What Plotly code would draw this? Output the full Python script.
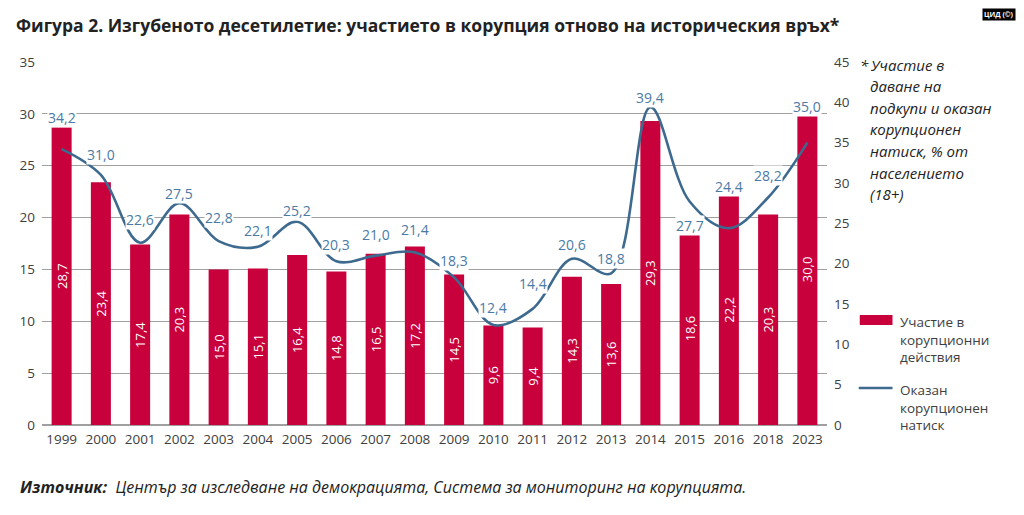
import plotly.graph_objects as go

years = ["1999", "2000", "2001", "2002", "2003", "2004", "2005", "2006", "2007", "2008",
         "2009", "2010", "2011", "2012", "2013", "2014", "2015", "2016", "2018", "2023"]
participation = [28.7, 23.4, 17.4, 20.3, 15.0, 15.1, 16.4, 14.8, 16.5, 17.2,
                 14.5, 9.6, 9.4, 14.3, 13.6, 29.3, 18.6, 22.2, 20.3, 30.0]
pressure = [34.2, 31.0, 22.6, 27.5, 22.8, 22.1, 25.2, 20.3, 21.0, 21.4,
            18.3, 12.4, 14.4, 20.6, 18.8, 39.4, 27.7, 24.4, 28.2, 35.0]

left_ticks = [0, 5, 10, 15, 20, 25, 30, 35]
right_ticks = [0, 5, 10, 15, 20, 25, 30, 35, 40, 45]

title_text = "Фигура 2. Изгубеното десетилетие: участието в корупция отново на историческия връх*"
note_lines = ["Участие в", "даване на", "подкупи и оказан", "корупционен",
              "натиск, % от", "населението", "(18+)"]
legend_bar = "Участие в<br>корупционни<br>действия"
legend_line = "Оказан<br>корупционен<br>натиск"
source_text = "<b>Източник:</b>  Център за изследване на демокрацията, Система за мониторинг на корупцията."

# styling: vertical pixel shift of each line label relative to its point
label_shift = [32, 20, 23, 10, 24, 16, 11, 17, 21, 23, 17, 17, 25, 14, 15, 10, -24, 42, 22, 36]

BAR = "#C8003C"
LINE = "#3D6A8E"
LBL = "#4A7AA6"
FONT = "Open Sans"
TXT = "#404040"

OFF = 8  # page body margin
W, H = 1024 - 2 * OFF, 515 - 2 * OFF
L, T = 36 - OFF, 62 - OFF
pw, ph = 791, 363
R, B = W - L - pw, H - T - ph

def px(x):  # page pixel -> paper
    return (x - OFF - L) / pw

def py(y):
    return 1 - (y - OFF - T) / ph

def fmt(v):
    return f"{v:.1f}".replace(".", ",")

fig = go.Figure()
fig.add_trace(go.Bar(
    x=years, y=participation, marker_color=BAR, marker_line_width=0,
    text=[fmt(v) for v in participation], textposition="inside",
    insidetextanchor="middle", textangle=-90,
    textfont=dict(color="white", size=13, family=FONT),
    showlegend=False, yaxis="y"))
fig.add_trace(go.Scatter(
    x=years, y=pressure, mode="lines",
    line=dict(color=LINE, width=2.6, shape="spline", smoothing=1.0),
    showlegend=False, yaxis="y2"))

for i, (v, s) in enumerate(zip(pressure, label_shift)):
    fig.add_annotation(x=i, y=v, xref="x", yref="y2", text=fmt(v), showarrow=False,
                       yshift=s, bgcolor="white", borderpad=0,
                       font=dict(color=LBL, size=14, family=FONT))

fig.update_layout(
    width=W, height=H,
    margin=dict(l=L, r=R, t=T, b=B, pad=0),
    paper_bgcolor="white", plot_bgcolor="white",
    bargap=0.49,
    uniformtext=dict(minsize=13, mode="show"),
    font=dict(family=FONT, color=TXT, size=13),
    xaxis=dict(type="category", range=[-0.5, len(years) - 0.5], showgrid=False, ticks="",
               showline=False, tickfont=dict(size=13.5, color=TXT), ticklabelstandoff=4),
    yaxis=dict(range=[0, 35], tickvals=left_ticks, showgrid=True, gridcolor="#A0A0A0",
               gridwidth=1, zeroline=True, zerolinecolor="#A0A0A0", zerolinewidth=1.5,
               ticks="", tickfont=dict(size=13.5, color=TXT), ticklabelstandoff=6),
    yaxis2=dict(range=[0, 45], tickvals=right_ticks, overlaying="y", side="right",
                showgrid=False, zeroline=False, ticks="", tickfont=dict(size=13.5, color=TXT),
                ticklabelstandoff=6),
)

def paper_text(x, y, text, size, color, xanchor="left", yanchor="middle", **kw):
    fig.add_annotation(x=px(x), y=py(y), xref="paper", yref="paper", text=text,
                       showarrow=False, xanchor=xanchor, yanchor=yanchor, align="left",
                       font=dict(size=size, color=color, family=FONT), **kw)

paper_text(8, 25, f"<b>{title_text}</b>", 17.5, "#222222")
paper_text(858, 65, "<i>*</i>", 15, "#222222")
for k, line in enumerate(note_lines):
    paper_text(868, 65 + k * 21.5, f"<i>{line}</i>", 15, "#222222")
paper_text(12, 487, f"<i>{source_text}</i>", 16, "#222222")
paper_text(899, 311, legend_bar, 13.5, TXT, yanchor="top")
paper_text(899, 379, legend_line, 13.5, TXT, yanchor="top")
paper_text(1000, 15, "<b>ЦИД (©)</b>", 7, "white", xanchor="center", bgcolor="black", borderpad=1)

fig.add_shape(type="rect", xref="paper", yref="paper",
              x0=px(860), x1=px(893), y0=py(325), y1=py(315),
              fillcolor=BAR, line_width=0)
fig.add_shape(type="line", xref="paper", yref="paper",
              x0=px(859), x1=px(893), y0=py(388), y1=py(388),
              line=dict(color=LINE, width=2.6))

fig.write_html("out.html")
